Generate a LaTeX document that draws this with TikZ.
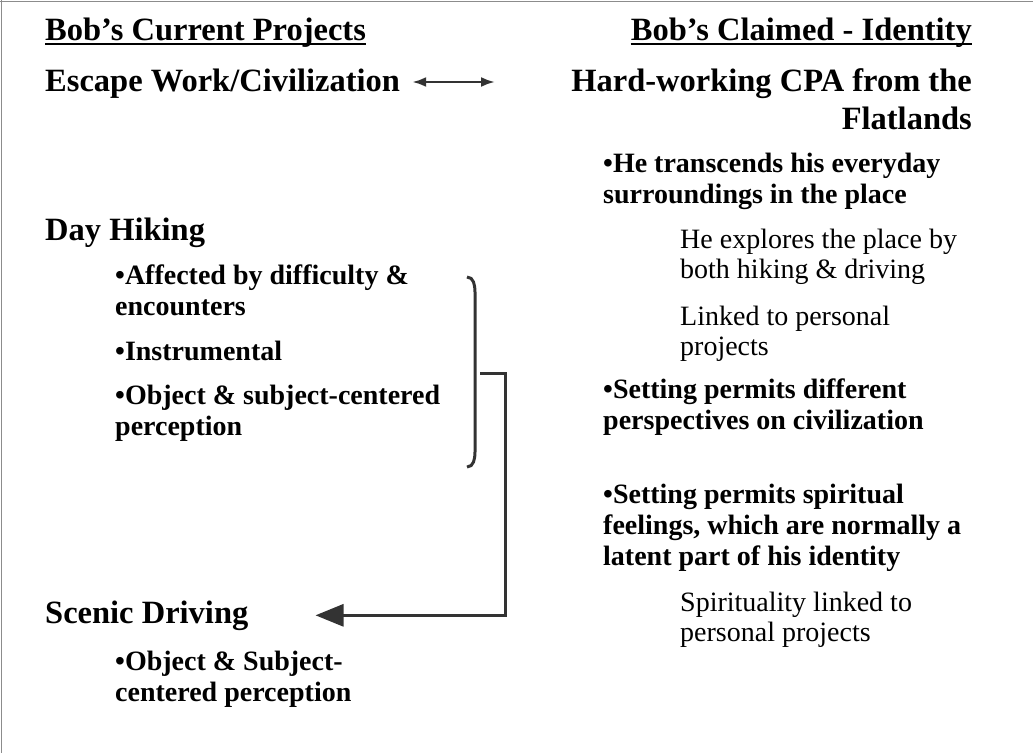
\documentclass[tikz,border=0pt]{standalone}
\usepackage{fontspec}
\setmainfont{Liberation Serif}
\usetikzlibrary{arrows.meta,positioning}

\tikzset{
  title/.style={font=\fontsize{32.5}{38}\selectfont\bfseries, inner sep=0pt, align=left},
  point/.style={font=\fontsize{28}{31}\selectfont\bfseries, inner sep=0pt, align=left},
  plain/.style={font=\fontsize{28}{30}\selectfont, inner sep=0pt, align=left},
  link/.style={line width=3pt, draw=black!80},
  frame/.style={line width=1.5pt, draw=black!45}
}

\begin{document}
\begin{tikzpicture}[x=1pt, y=-1pt]

\useasboundingbox[fill=white] (0,0) rectangle (1033,753);
\draw[frame] (0,1.5) -- (1033,1.5);
\draw[frame] (1.5,0) -- (1.5,753);

% left column (base = last line)
\node[title, anchor=base west] at (45,40) (projhd) {Bob’s Current Projects};
\draw[line width=2.5pt] ([yshift=-4pt]projhd.base west) -- ([yshift=-4pt]projhd.base east);
\node[title, anchor=base west] at (45,91) (escape) {Escape Work/Civilization};
\node[title, anchor=base west] at (45,240) (hiking) {Day Hiking};
\node[point, anchor=base west] at (115,315) (affect) {•Affected by difficulty \&\\encounters};
\node[point, anchor=base west] at (115,360) (instr) {•Instrumental};
\node[point, anchor=base west] at (115,435) (objsub) {•Object \& subject-centered\\perception};
\node[title, anchor=base west] at (45,623) (scenic) {Scenic Driving};
\node[point, anchor=base west] at (115,701) (objsubb) {•Object \& Subject-\\centered perception};
%
% right column
\node[title, anchor=base east] at (972,40) (idhd) {Bob’s Claimed - Identity};
\draw[line width=2.5pt] ([yshift=-4pt]idhd.base west) -- ([yshift=-4pt]idhd.base east);
\node[title, anchor=base east, align=right] at (972,129) (cpa) {Hard-working CPA from the\\Flatlands};
\node[point, anchor=base west] at (603,203) (transc) {•He transcends his everyday\\surroundings in the place};
\node[plain, anchor=base west] at (680,278) (explore) {He explores the place by\\both hiking \& driving};
\node[plain, anchor=base west] at (680,355) (linked) {Linked to personal\\projects};
\node[point, anchor=base west] at (603,429) (persp) {•Setting permits different\\perspectives on civilization};
\node[point, anchor=base west] at (603,565) (spirit) {•Setting permits spiritual\\feelings, which are normally a\\latent part of his identity};
\node[plain, anchor=base west] at (680,641) (spirlink) {Spirituality linked to\\personal projects};
%
% connectors
\coordinate (escR) at (495,82);
\draw[link, line width=2.5pt, {Latex[length=14pt,width=10pt]}-{Latex[length=14pt,width=10pt]}]
  ([xshift=12pt]escape.east |- escR) -- (escR);
\draw[link] (467,277) to[out=0,in=90] (475,292) -- (475,452) to[out=-90,in=0] (467,467);
\coordinate (brk) at (480,373);
\draw[link, -{Triangle[length=28pt,width=22pt]}]
  (brk) -- (505,373) |- ([xshift=67pt]scenic.east);
\end{tikzpicture}
\end{document}
